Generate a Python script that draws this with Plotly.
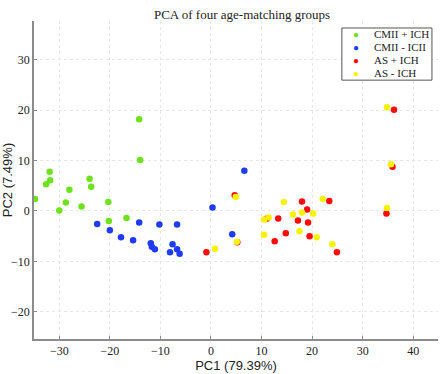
import plotly.graph_objects as go

# Data (PC1, PC2)
cmii_pos_x = [-34.8, -32.6, -31.8, -31.9, -30.0, -28.7, -28.0, -25.6, -24.0, -23.7, -20.3, -20.2, -16.7, -14.2, -14.0]
cmii_pos_y = [2.4, 5.3, 6.1, 7.8, 0.1, 1.7, 4.2, 0.9, 6.4, 4.8, 1.8, -2.0, -1.4, 18.2, 10.1]

cmii_neg_x = [-22.5, -20.0, -17.8, -15.4, -14.2, -11.9, -11.7, -11.1, -10.2, -8.1, -7.6, -6.7, -6.7, -6.2, 0.3, 6.6, 4.2]
cmii_neg_y = [-2.6, -3.8, -5.2, -5.8, -2.3, -6.4, -7.1, -7.6, -2.7, -8.2, -6.6, -7.6, -2.7, -8.5, 0.7, 8.0, -4.6]

as_pos_x = [-0.9, 4.7, 5.2, 11.1, 13.3, 12.6, 14.8, 17.2, 18.0, 19.0, 19.2, 19.5, 23.4, 24.9, 34.7, 35.9, 36.2]
as_pos_y = [-8.2, 3.1, -6.2, -1.5, -1.5, -6.0, -4.4, -1.9, 1.9, 0.3, -2.3, -5.0, 2.0, -8.2, -0.5, 8.8, 20.1]

as_neg_x = [0.8, 4.9, 5.1, 10.5, 11.4, 10.5, 14.4, 16.2, 18.0, 17.5, 20.2, 20.9, 22.1, 24.0, 34.8, 35.6, 34.8]
as_neg_y = [-7.5, 2.8, -6.1, -1.7, -1.3, -4.7, 1.8, -0.7, -0.3, -4.0, -0.5, -5.2, 2.4, -6.6, 0.6, 9.3, 20.6]

group_names = ["CMII + ICH", "CMII - ICII", "AS + ICH", "AS - ICH"]
group_colors = ["#6ee21c", "#1f3cf5", "#ff0a0a", "#f7f20a"]
group_x = [cmii_pos_x, cmii_neg_x, as_pos_x, as_neg_x]
group_y = [cmii_pos_y, cmii_neg_y, as_pos_y, as_neg_y]

x_ticks = [-30, -20, -10, 0, 10, 20, 30, 40]
y_ticks = [-20, -10, 0, 10, 20, 30]

serif = "Liberation Serif, DejaVu Serif, serif"
sans = "Liberation Sans, Arial, sans-serif"

fig = go.Figure()
for name, xs, ys, col in zip(group_names, group_x, group_y, group_colors):
    fig.add_trace(go.Scatter(x=xs, y=ys, mode="markers", name=name, showlegend=False,
                             marker=dict(color=col, size=6.5, line=dict(width=0))))

# Compact legend box (MATLAB style), drawn in paper coordinates
leg_x0, leg_x1, leg_y0, leg_y1 = 0.762, 0.985, 0.814, 0.978
fig.add_shape(type="rect", xref="paper", yref="paper", x0=leg_x0, x1=leg_x1, y0=leg_y0, y1=leg_y1,
              line=dict(color="#555555", width=1), fillcolor="white", layer="above")
row_y = [0.958, 0.917, 0.876, 0.835]
for name, col, ry in zip(group_names, group_colors, row_y):
    fig.add_annotation(xref="paper", yref="paper", x=0.797, y=ry, text="●", showarrow=False,
                       xanchor="center", yanchor="middle", font=dict(size=10, color=col))
    fig.add_annotation(xref="paper", yref="paper", x=0.836, y=ry, text=name, showarrow=False,
                       xanchor="left", yanchor="middle",
                       font=dict(family=serif, size=11, color="#222222"))

axis_common = dict(showgrid=True, gridcolor="#e6e6e6", gridwidth=1, griddash="dot", zeroline=False,
                   showline=True, linecolor="#8c8c8c", linewidth=1.5,
                   ticks="inside", ticklen=3, tickcolor="#8c8c8c", automargin=False,
                   tickfont=dict(family=serif, size=12, color="#222222"))

fig.update_layout(
    width=440, height=374,
    margin=dict(l=34, r=2, t=21, b=35, autoexpand=False),
    paper_bgcolor="white", plot_bgcolor="white",
    title=dict(text="PCA of four age-matching groups", x=0.515, xanchor="center",
               xref="paper", y=0.962, yref="container", yanchor="middle",
               font=dict(family=serif, size=13, color="#222222")),
    xaxis=dict(range=[-35, 44.9], tickvals=x_ticks,
               title=dict(text="PC1 (79.39%)", font=dict(family=sans, size=13, color="#222222"), standoff=3),
               **axis_common),
    yaxis=dict(range=[-25.4, 37.7], tickvals=y_ticks,
               title=dict(text="PC2 (7.49%)", font=dict(family=sans, size=13, color="#222222"), standoff=4),
               **axis_common),
    showlegend=False,
)

fig.write_html("out.html", config={"displayModeBar": False},
               post_script="document.body.style.margin='0';document.body.style.overflow='hidden';")
